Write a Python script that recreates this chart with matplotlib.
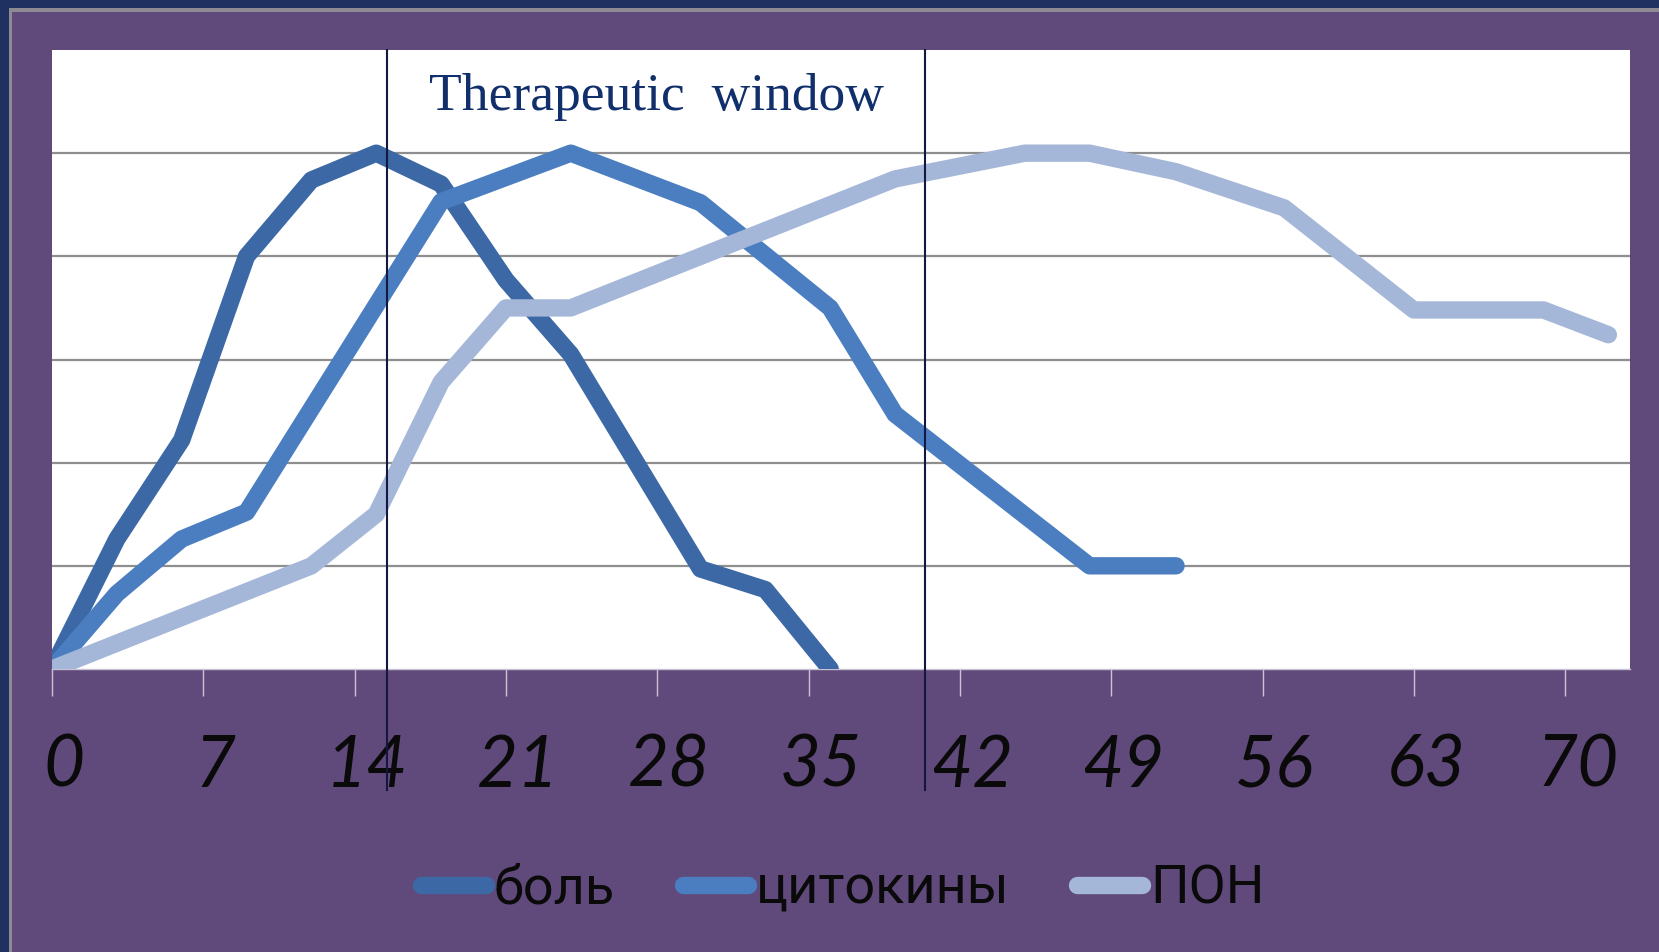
import matplotlib
matplotlib.use("Agg")
import matplotlib.pyplot as plt
import matplotlib.transforms as mtransforms
from matplotlib.patches import Rectangle

# days of each measured point, per series
bol_days = [0, 3, 6, 9, 12, 15, 18, 21, 24, 30, 33, 36]
bol = [0, 1.26, 2.22, 4.0, 4.74, 5.0, 4.7, 3.77, 3.05, 0.97, 0.77, 0.0]

cit_days = [0, 3, 6, 9, 18, 24, 30, 36, 39, 48, 52]
citokiny = [0, 0.73, 1.26, 1.52, 4.53, 5.0, 4.52, 3.5, 2.47, 1.0, 1.0]

pon_days = [0, 12, 15, 18, 21, 24, 39, 45, 48, 52, 57, 63, 69, 72]
pon = [0, 1.0, 1.5, 2.78, 3.5, 3.5, 4.75, 5.0, 5.0, 4.82, 4.47, 3.48, 3.48, 3.24]

series_names = ["боль", "цитокины", "ПОН"]
series_colors = ["#3C69A6", "#4A7EC1", "#A5B7D8"]

xtick_days = [0, 7, 14, 21, 28, 35, 42, 49, 56, 63, 70]
window = [15.5, 40.4]
window_label = "Therapeutic  window"

purple = "#604A7B"
navy = "#1E3160"

fig = plt.figure(figsize=(16.59, 9.52), dpi=100, facecolor=purple)

# dark frame on the top and left edges of the slide
fig.patches.append(Rectangle((0, 0), 9 / 1659, 1, transform=fig.transFigure,
                             facecolor=navy, edgecolor="none", zorder=0))
fig.patches.append(Rectangle((0, 1 - 8 / 952), 1, 8 / 952, transform=fig.transFigure,
                             facecolor=navy, edgecolor="none", zorder=0))
fig.patches.append(Rectangle((9 / 1659, 0), 3 / 1659, 1 - 8 / 952, transform=fig.transFigure,
                             facecolor="#8E8A93", edgecolor="none", zorder=0))
fig.patches.append(Rectangle((9 / 1659, 1 - 12 / 952), 1, 4 / 952, transform=fig.transFigure,
                             facecolor="#8E8A93", edgecolor="none", zorder=0))

ax = fig.add_axes([52 / 1659, 1 - 669 / 952, (1630 - 52) / 1659, (669 - 50) / 952])
ax.set_facecolor("white")

all_days = [bol_days, cit_days, pon_days]
all_series = [bol, citokiny, pon]
for name, xs, vals, col in zip(series_names, all_days, all_series, series_colors):
    ax.plot(xs, vals, color=col, lw=12.5, label=name,
            solid_capstyle="round", solid_joinstyle="round", zorder=3)

ax.set_xlim(0, 73.0)
ax.set_ylim(0, 6)

ax.set_yticks([1, 2, 3, 4, 5])
ax.yaxis.grid(True, color="#8E8E8E", lw=1.6)
ax.set_axisbelow(True)
ax.tick_params(axis="y", length=0, labelleft=False)

for s in ["top", "left", "right"]:
    ax.spines[s].set_visible(False)
ax.spines["bottom"].set_color("#C8C2D2")
ax.spines["bottom"].set_linewidth(1.0)

ax.set_xticks(xtick_days)
ax.set_xticklabels([str(d) for d in xtick_days], fontsize=51, style="italic",
                   family=["Lato", "DejaVu Sans"], color="#0A0A0A")
ax.tick_params(axis="x", length=19.5, width=1.0, color="#C9C3D3", pad=27)
shift = mtransforms.ScaledTranslation(0.12, 0, fig.dpi_scale_trans)
for lab in ax.get_xticklabels():
    lab.set_transform(lab.get_transform() + shift)

# therapeutic window borders
for d in window:
    ax.axvline(d, ymin=-0.195, ymax=1, color="#14173F", lw=1.5,
               clip_on=False, zorder=5)
ax.text(sum(window) / 2, 5.42, window_label, ha="center", va="baseline",
        fontsize=38.5, family=["Liberation Serif", "DejaVu Serif"], color="#112F6B",
        zorder=6)

leg = fig.legend(loc="center", bbox_to_anchor=(0.508, 0.066), ncol=3,
                 frameon=False, handlelength=1.2, handletextpad=0.15,
                 columnspacing=1.25,
                 prop={"family": ["Roboto", "DejaVu Sans"], "size": 39})
for t in leg.get_texts():
    t.set_color("#0A0A0A")

fig.savefig("out.png", dpi=100, facecolor=purple)
